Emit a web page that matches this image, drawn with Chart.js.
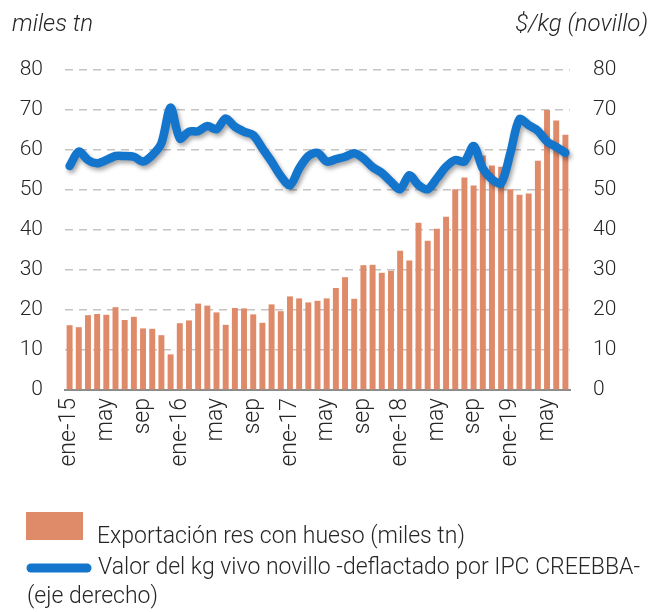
<!DOCTYPE html>
<html lang="es">
<head>
<meta charset="utf-8">
<title>Exportación res con hueso</title>
<script src="https://cdn.jsdelivr.net/npm/chart.js@4.4.1/dist/chart.umd.min.js"></script>
<style>
    body { margin: 0; background: #fff; }
    canvas { display: block; }
</style>
</head>
<body>
<canvas id="grafico" width="665" height="612"></canvas>
<script>
// meses ene-15 .. jul-19
var meses = ['ene', 'feb', 'mar', 'abr', 'may', 'jun', 'jul', 'ago', 'sep', 'oct', 'nov', 'dic'];
var anios = ['15', '16', '17', '18', '19'];

// miles tn
var exportacion = [
    16.2, 15.7, 18.7, 19.0, 18.8, 20.7, 17.5, 18.3, 15.4, 15.3, 13.7, 8.9,
    16.7, 17.4, 21.6, 21.1, 19.4, 16.3, 20.5, 20.4, 18.9, 16.8, 21.4, 19.7,
    23.4, 22.9, 21.9, 22.3, 22.9, 25.5, 28.2, 22.8, 31.2, 31.3, 29.3, 29.8,
    34.8, 32.4, 41.8, 37.3, 40.3, 43.3, 50.2, 53.1, 51.1, 58.6, 56.1, 55.8,
    50.2, 48.8, 49.1, 57.3, 70.0, 67.4, 63.8
];

// $/kg novillo (eje derecho)
var valorNovillo = [
    56.0, 59.6, 57.5, 56.7, 57.5, 58.5, 58.5, 58.3, 57.1, 58.7, 61.7, 70.6,
    62.9, 64.6, 64.7, 66.0, 65.2, 67.9, 65.8, 64.6, 63.7, 60.4, 57.1, 53.5,
    51.2, 55.4, 58.5, 59.3, 57.1, 57.7, 58.3, 59.2, 57.9, 55.7, 54.3, 52.1,
    50.2, 53.7, 51.2, 50.2, 52.9, 55.8, 57.5, 57.1, 61.0, 55.4, 52.7, 51.7,
    59.2, 67.7, 66.2, 64.8, 62.1, 60.8, 59.3
];

var ticksEje = [0, 10, 20, 30, 40, 50, 60, 70, 80];

var categorias = [];
for (var i = 0; i < exportacion.length; i++) {
    var m = meses[i % 12];
    categorias.push(m == 'ene' ? m + '-' + anios[Math.floor(i / 12)] : m);
}

var familia = 'Roboto, "Liberation Sans", sans-serif';
var fuente = { family: familia, size: 21, weight: '300' };
var fuenteX = { family: familia, size: 23, weight: '300' };
var colorTexto = '#262626';

// sombra de la linea azul
var sombra = {
    id: 'sombra',
    beforeDatasetDraw: function (chart, args) {
        if (args.index != 1) return;
        var ctx = chart.ctx;
        ctx.save();
        ctx.shadowColor = 'rgba(0, 0, 0, 0.35)';
        ctx.shadowBlur = 4;
        ctx.shadowOffsetX = 2;
        ctx.shadowOffsetY = 3;
    },
    afterDatasetDraw: function (chart, args) {
        if (args.index != 1) return;
        chart.ctx.restore();
    }
};

// titulos de ejes y leyenda
var textos = {
    id: 'textos',
    afterDraw: function (chart) {
        var ctx = chart.ctx;
        ctx.save();
        ctx.fillStyle = colorTexto;
        ctx.textBaseline = 'middle';
        ctx.font = 'italic 300 24px ' + familia;
        ctx.textAlign = 'left';
        ctx.fillText('miles tn', 12, 25);
        ctx.textAlign = 'right';
        ctx.fillText('$/kg (novillo)', 648, 25);

        ctx.textAlign = 'left';
        ctx.font = '300 23px ' + familia;
        ctx.fillStyle = '#df8a69';
        ctx.fillRect(26, 512, 57, 28);
        ctx.fillStyle = colorTexto;
        ctx.fillText('Exportación res con hueso (miles tn)', 97, 537);

        ctx.strokeStyle = '#1475cc';
        ctx.lineWidth = 9;
        ctx.lineCap = 'round';
        ctx.beginPath();
        ctx.moveTo(31, 568);
        ctx.lineTo(87, 568);
        ctx.stroke();
        ctx.fillText('Valor del kg vivo novillo -deflactado por IPC CREEBBA-', 98, 568);
        ctx.fillText('(eje derecho)', 27, 597);
        ctx.restore();
    }
};

window.addEventListener('DOMContentLoaded', function () {
    var ctx = document.getElementById('grafico').getContext('2d');
    var grafico = new Chart(ctx, {
        type: 'bar',
        data: {
            labels: categorias,
            datasets: [{
                label: 'Exportación res con hueso (miles tn)',
                data: exportacion,
                backgroundColor: '#df8a69',
                barPercentage: 0.72,
                categoryPercentage: 0.9,
                yAxisID: 'y',
                order: 1
            }, {
                type: 'line',
                label: 'Valor del kg vivo novillo -deflactado por IPC CREEBBA- (eje derecho)',
                data: valorNovillo,
                borderColor: '#1475cc',
                borderWidth: 8.5,
                borderCapStyle: 'round',
                borderJoinStyle: 'round',
                pointRadius: 0,
                tension: 0.3,
                fill: false,
                yAxisID: 'y1',
                order: 0
            }]
        },
        options: {
            responsive: false,
            devicePixelRatio: 1,
            animation: false,
            layout: { padding: { top: 70, right: 0, bottom: 0, left: 0 } },
            plugins: {
                legend: { display: false },
                tooltip: { enabled: false }
            },
            scales: {
                x: {
                    grid: { display: false, drawTicks: false },
                    border: { display: true, color: '#8c8c8c', width: 2 },
                    ticks: {
                        autoSkip: false,
                        maxRotation: 90,
                        minRotation: 90,
                        padding: 8,
                        color: colorTexto,
                        font: fuenteX,
                        callback: function (val, idx) {
                            return idx % 4 == 0 ? categorias[idx] : '';
                        }
                    },
                    afterFit: function (axis) { axis.height = 222; }
                },
                y: {
                    position: 'left',
                    min: 0,
                    max: 80,
                    afterBuildTicks: function (axis) {
                        axis.ticks = ticksEje.map(function (v) { return { value: v }; });
                    },
                    grid: { color: '#c4c4c4', lineWidth: 1.5, drawTicks: false },
                    border: { display: false, dash: [8, 6] },
                    ticks: { padding: 22, color: colorTexto, font: fuente },
                    afterFit: function (axis) { axis.width = 65; }
                },
                y1: {
                    position: 'right',
                    min: 0,
                    max: 80,
                    afterBuildTicks: function (axis) {
                        axis.ticks = ticksEje.map(function (v) { return { value: v }; });
                    },
                    grid: { display: false, drawTicks: false },
                    border: { display: false },
                    ticks: { padding: 23, color: colorTexto, font: fuente },
                    afterFit: function (axis) { axis.width = 95; }
                }
            }
        },
        plugins: [sombra, textos]
    });
});
</script>
</body>
</html>
